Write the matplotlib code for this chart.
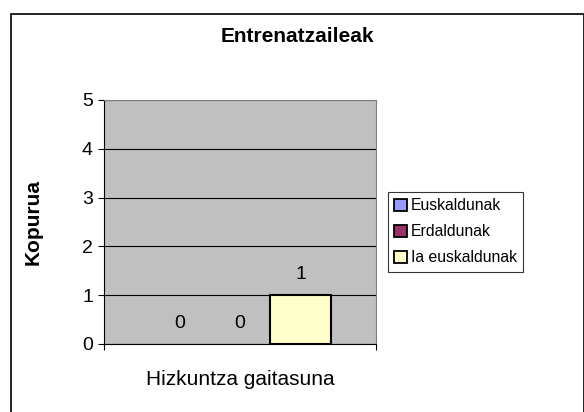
import matplotlib
matplotlib.use("Agg")
import matplotlib.pyplot as plt
from matplotlib.patches import Patch, Rectangle

plt.rcParams['font.family'] = ['Liberation Sans', 'DejaVu Sans']

series = ["Euskaldunak", "Erdaldunak", "Ia euskaldunak"]
values = [0, 0, 1]
colors = ["#9999FF", "#993366", "#FFFFCC"]
category = "Hizkuntza gaitasuna"
title = "Entrenatzaileak"
ylabel = "Kopurua"

W, H = 584, 412
fig = plt.figure(figsize=(W / 100, H / 100), dpi=100)

# Excel style outer frame
fig.patches.append(Rectangle((11 / W, -0.01), (W - 11) / W, (H - 14) / H + 0.01,
                             transform=fig.transFigure, fill=False,
                             edgecolor="black", linewidth=1.2))

ax = fig.add_axes([104 / W, (H - 344) / H, 272 / W, 244 / H])
ax.set_facecolor("#C0C0C0")

pos = [-1, 0, 1]
for x, v, c in zip(pos, values, colors):
    ax.bar(x, v, width=1, color=c, edgecolor="black",
           linewidth=1.5 if v else 0, zorder=3)
    ax.annotate(str(v), (x, v), xytext=(0, 15), textcoords="offset points",
                ha="center", va="center", fontsize=14)

ax.set_xlim(-2.25, 2.25)
ax.set_ylim(0, 5)
ax.set_yticks(range(6))
ax.tick_params(axis="y", direction="out", length=4, width=0.8, labelsize=14, pad=4)
ax.yaxis.grid(True, color="black", linewidth=0.8)
ax.set_axisbelow(True)

ax.set_xticks([0], labels=[category])
ax.tick_params(axis="x", which="major", length=0, labelsize=15, pad=19)
ax.set_xticks([-2.25, 2.25], minor=True)
ax.tick_params(axis="x", which="minor", direction="out", length=4, width=0.8)

for s in ["top", "right"]:
    ax.spines[s].set_color("#808080")
for s in ["left", "bottom"]:
    ax.spines[s].set_color("black")

ax.set_ylabel(ylabel, fontsize=15, fontweight="bold")
ax.yaxis.set_label_coords(-0.225, 0.5)

fig.text(297 / W, 1 - 36 / H, title, ha="center", va="center",
         fontsize=15, fontweight="bold")

handles = [Patch(facecolor=c, edgecolor="black", linewidth=1.3) for c in colors]
leg = fig.legend(handles, series, loc="upper left", bbox_to_anchor=(388 / W, 1 - 192 / H),
                 borderaxespad=0, fontsize=11.3, frameon=True, fancybox=False,
                 handlelength=0.8, handleheight=0.8, handletextpad=0.25,
                 labelspacing=0.7, borderpad=0.4)
leg.get_frame().set_edgecolor("black")
leg.get_frame().set_linewidth(0.8)

fig.savefig("out.png", dpi=100)
